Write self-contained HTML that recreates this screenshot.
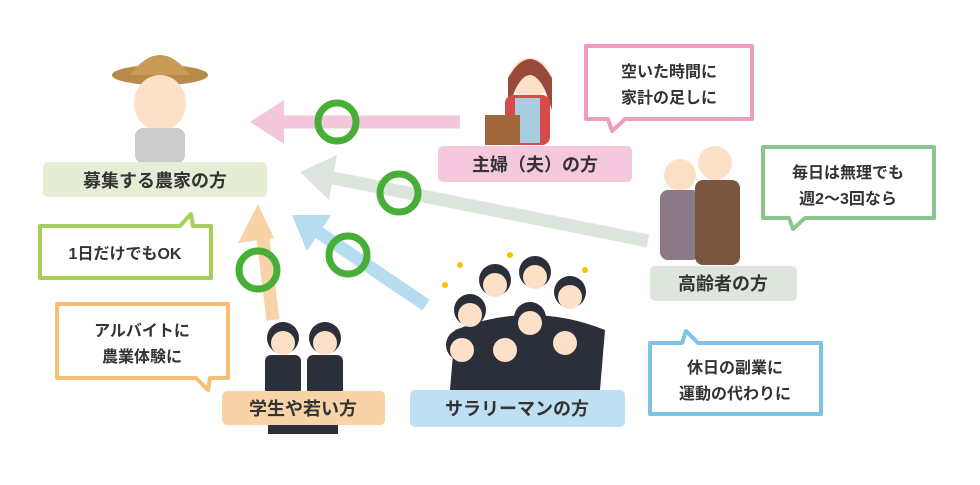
<!DOCTYPE html>
<html><head><meta charset="utf-8"><style>
body{margin:0;background:#fff;}
svg text{font-family:"Liberation Sans","Noto Sans CJK JP",sans-serif;font-weight:bold;fill:#333;}
</style></head><body>
<svg width="980" height="480" viewBox="0 0 980 480" xmlns="http://www.w3.org/2000/svg">
<g>
<line x1="460" y1="122" x2="280" y2="122" stroke="#f4c6dc" stroke-width="13"/>
<polygon points="250,122 284,100 284,144" fill="#f4c6dc"/>
<line x1="648" y1="241" x2="328" y2="177" stroke="#dce5dc" stroke-width="13"/>
<polygon points="300,172 337,155 329,200" fill="#dce5dc"/>
<line x1="426" y1="305" x2="315" y2="230" stroke="#b6dcf0" stroke-width="13"/>
<polygon points="292,215 331,215 307,251" fill="#b6dcf0"/>
<line x1="273" y1="320" x2="262" y2="230" stroke="#f8d3a8" stroke-width="13"/>
<polygon points="258,204 274,238 238,243" fill="#f8d3a8"/>
</g>
<g fill="none" stroke="#47ae37" stroke-width="7">
<circle cx="337" cy="122" r="19"/>
<circle cx="399" cy="193" r="19"/>
<circle cx="348" cy="255" r="19"/>
<circle cx="258" cy="270" r="19"/>
</g>
<g>
<ellipse cx="160" cy="75" rx="48" ry="10" fill="#b58a4a"/>
<path d="M130 75 Q160 35 190 75Z" fill="#c79a55"/>
<ellipse cx="160" cy="103" rx="26" ry="28" fill="#fde0c8"/>
<rect x="135" y="128" width="50" height="35" rx="8" fill="#ccc"/>
<circle cx="530" cy="78" r="20" fill="#fde0c8"/>
<path d="M508 78 Q530 40 552 78 L552 110 L545 90 Q530 60 515 90 L508 110Z" fill="#9a4a3a"/>
<rect x="505" y="95" width="45" height="50" rx="8" fill="#d64a4a"/>
<rect x="515" y="98" width="25" height="45" fill="#a9cde0"/>
<rect x="485" y="115" width="35" height="30" fill="#a0683a"/>
<circle cx="680" cy="175" r="16" fill="#fde0c8"/>
<circle cx="715" cy="163" r="17" fill="#fde0c8"/>
<rect x="660" y="190" width="40" height="70" rx="8" fill="#8a7a85"/>
<rect x="695" y="180" width="45" height="85" rx="8" fill="#7a5540"/>
<g fill="#2b2f3a">
<path d="M450 390 L455 330 Q530 300 605 330 L600 390Z"/>
<circle cx="495" cy="280" r="16"/><circle cx="535" cy="272" r="16"/><circle cx="570" cy="292" r="16"/>
<circle cx="470" cy="310" r="16"/><circle cx="530" cy="318" r="16"/><circle cx="565" cy="338" r="16"/>
<circle cx="462" cy="345" r="16"/><circle cx="505" cy="345" r="16"/>
</g>
<g fill="#fde0c8">
<circle cx="495" cy="285" r="12"/><circle cx="535" cy="277" r="12"/><circle cx="570" cy="297" r="12"/>
<circle cx="470" cy="315" r="12"/><circle cx="530" cy="323" r="12"/><circle cx="565" cy="343" r="12"/>
<circle cx="462" cy="350" r="12"/><circle cx="505" cy="350" r="12"/>
</g>
<g fill="#f5c400"><circle cx="460" cy="265" r="3"/><circle cx="510" cy="255" r="3"/><circle cx="585" cy="270" r="3"/><circle cx="445" cy="285" r="3"/></g>
<g>
<circle cx="283" cy="338" r="16" fill="#2b2f3a"/><circle cx="283" cy="343" r="12" fill="#fde0c8"/>
<circle cx="325" cy="338" r="16" fill="#2b2f3a"/><circle cx="325" cy="343" r="12" fill="#fde0c8"/>
<rect x="265" y="355" width="36" height="40" rx="6" fill="#2b2f3a"/>
<rect x="307" y="355" width="36" height="40" rx="6" fill="#2b2f3a"/>
<rect x="268" y="420" width="70" height="14" fill="#2b2f3a"/>
</g>
</g>
<rect x="43" y="162" width="224" height="35" rx="5" fill="#e5eed5"/>
<text x="155" y="187" font-size="18" text-anchor="middle">募集する農家の方</text>
<rect x="438" y="146" width="194" height="36" rx="5" fill="#f5c8dd"/>
<text x="535" y="171" font-size="18" text-anchor="middle">主婦（夫）の方</text>
<rect x="650" y="266" width="147" height="35" rx="5" fill="#dde5dc"/>
<text x="723" y="290" font-size="18" text-anchor="middle">高齢者の方</text>
<rect x="410" y="390" width="215" height="37" rx="5" fill="#bfe0f2"/>
<text x="517" y="415" font-size="18" text-anchor="middle">サラリーマンの方</text>
<rect x="222" y="391" width="163" height="34" rx="5" fill="#f8d3a8"/>
<text x="303" y="415" font-size="18" text-anchor="middle">学生や若い方</text>
<g stroke-width="4" fill="#fff">
<path d="M586 46 H752 V119 H625 L612 131 L608 119 H586Z" stroke="#ef9cc3" stroke-linejoin="round"/>
<path d="M763 147 H934 V218 H805 L793 229 L789 218 H763Z" stroke="#8ac58e" stroke-linejoin="round"/>
<path d="M40 226 H180 L191 214 L193 226 H211 V278 H40Z" stroke="#a8cf57" stroke-linejoin="round"/>
<path d="M57 304 H228 V378 H210 L208 390 L196 378 H57Z" stroke="#f7bf76" stroke-linejoin="round"/>
<path d="M650 343 H682 L686 331 L698 343 H821 V414 H650Z" stroke="#7cc3e6" stroke-linejoin="round"/>
</g>
<g font-size="16" text-anchor="middle">
<text x="669" y="77">空いた時間に</text><text x="669" y="103">家計の足しに</text>
<text x="848" y="178">毎日は無理でも</text><text x="848" y="204">週2〜3回なら</text>
<text x="125" y="259">1日だけでもOK</text>
<text x="142" y="336">アルバイトに</text><text x="142" y="362">農業体験に</text>
<text x="735" y="373">休日の副業に</text><text x="735" y="399">運動の代わりに</text>
</g>
</svg>
</body></html>
